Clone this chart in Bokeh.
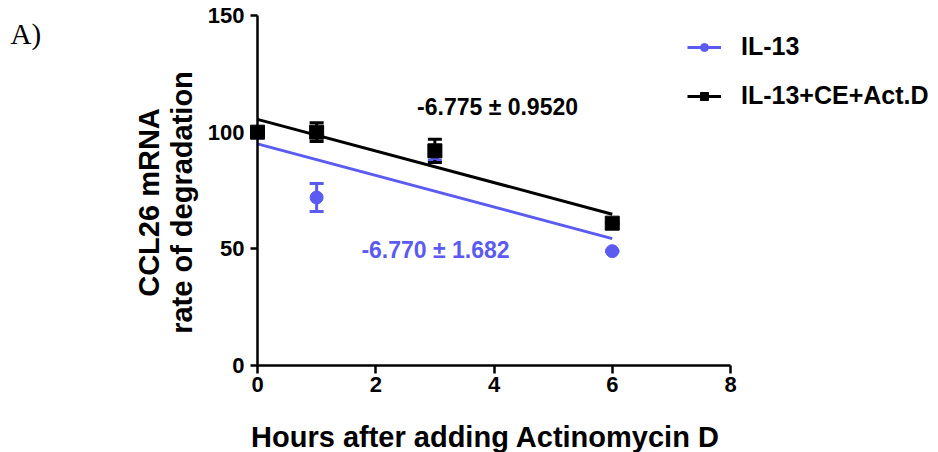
import math
from bokeh.plotting import figure
from bokeh.models import (Range1d, FixedTicker, Whisker, TeeHead, ColumnDataSource,
                          Legend, LegendItem, Label)
from bokeh.embed import file_html
from bokeh.resources import INLINE

# Time points (hours after Actinomycin D)
hours = [0, 1, 3, 6]

# CCL26 mRNA (% of t=0) with SEM
il13_mean = [100, 72, 91, 49]
il13_err = [0, 6, 3, 0]
ce_mean = [100, 100, 92, 61]
ce_err = [0, 4, 5, 0]

# Linear fits: slope ± SE, and intercepts
il13_slope, il13_slope_se, il13_icpt = -6.770, "1.682", 95.0
ce_slope, ce_slope_se, ce_icpt = -6.775, "0.9520", 105.5
fit_x = [0, 6]

x_ticks = [0, 2, 4, 6, 8]
y_ticks = [0, 50, 100, 150]

BLUE = "#5b5bf2"
BLACK = "#000000"
FONT = "Liberation Sans"

W, H = 938, 452
# plot area of the axes inside the canvas (pixels)
AX_L, AX_R, AX_T, AX_B = 257, 730, 15, 365
px_x = (AX_R - AX_L) / 8.0
px_y = (AX_B - AX_T) / 150.0

p = figure(width=W, height=H, output_backend="svg", toolbar_location=None,
           x_range=Range1d(-AX_L / px_x, (W - AX_L) / px_x),
           y_range=Range1d(-(H - AX_B) / px_y, 150 + AX_T / px_y),
           min_border=0)
p.outline_line_color = None
p.grid.visible = False
p.background_fill_color = "white"
p.border_fill_color = "white"

for ax in (p.xaxis[0], p.yaxis[0]):
    ax.fixed_location = 0
    ax.axis_line_width = 2.5
    ax.major_tick_line_width = 2.5
    ax.minor_tick_line_color = None
    ax.major_tick_in = 0
    ax.major_label_text_font = FONT
    ax.major_label_text_font_style = "bold"
    ax.major_label_text_font_size = "22px"
    ax.major_label_text_color = BLACK

p.xaxis.bounds = (0, 8)
p.yaxis.bounds = (0, 150)
p.xaxis.ticker = FixedTicker(ticks=x_ticks)
p.yaxis.ticker = FixedTicker(ticks=y_ticks)
p.xaxis.major_tick_out = 8
p.yaxis.major_tick_out = 7
p.xaxis.major_label_standoff = 3
p.yaxis.major_label_standoff = 6

# Axis titles
title_style = dict(x_units="screen", y_units="screen", text_font=FONT,
                   text_font_style="bold", text_font_size="29px", text_color=BLACK,
                   text_align="center", text_baseline="middle")
p.add_layout(Label(x=485, y=H - 436, text="Hours after adding Actinomycin D",
                   **title_style))
p.add_layout(Label(x=148, y=H - 202, text="CCL26 mRNA", angle=math.pi / 2,
                   **title_style))
p.add_layout(Label(x=181, y=H - 202, text="rate of degradation", angle=math.pi / 2,
                   **title_style))

# Regression lines
il13_fit = [il13_icpt + il13_slope * x for x in fit_x]
ce_fit = [ce_icpt + ce_slope * x for x in fit_x]
l_il13 = p.line(fit_x, il13_fit, line_color=BLUE, line_width=3)
l_ce = p.line(fit_x, ce_fit, line_color=BLACK, line_width=3)

# Error bars
src_il13 = ColumnDataSource(dict(
    x=hours, y=il13_mean,
    lo=[m - e for m, e in zip(il13_mean, il13_err)],
    hi=[m + e for m, e in zip(il13_mean, il13_err)]))
src_ce = ColumnDataSource(dict(
    x=hours, y=ce_mean,
    lo=[m - e for m, e in zip(ce_mean, ce_err)],
    hi=[m + e for m, e in zip(ce_mean, ce_err)]))

for src, col in ((src_il13, BLUE), (src_ce, BLACK)):
    w = Whisker(source=src, base="x", lower="lo", upper="hi",
                line_color=col, line_width=3,
                upper_head=TeeHead(size=14, line_color=col, line_width=3),
                lower_head=TeeHead(size=14, line_color=col, line_width=3))
    p.add_layout(w)

s_il13 = p.scatter("x", "y", source=src_il13, marker="circle", size=13,
                   fill_color=BLUE, line_color=BLUE)
s_ce = p.scatter("x", "y", source=src_ce, marker="square", size=14,
                 fill_color=BLACK, line_color=BLACK)

# Slope annotations
slope_style = dict(text_align="center", text_baseline="middle", text_font=FONT,
                   text_font_style="bold", text_font_size="23px")
p.add_layout(Label(x=4.06, y=110.6, text=f"{ce_slope:.3f} ± {ce_slope_se}",
                   text_color=BLACK, **slope_style))
p.add_layout(Label(x=3.01, y=49.7, text=f"{il13_slope:.3f} ± {il13_slope_se}",
                   text_color=BLUE, **slope_style))

# Panel letter
p.add_layout(Label(x=10, y=H - 33, x_units="screen", y_units="screen", text="A)",
                   text_font="Liberation Serif", text_font_size="29px",
                   text_color=BLACK, text_baseline="middle"))

legend = Legend(items=[LegendItem(label="IL-13", renderers=[l_il13, s_il13]),
                       LegendItem(label="IL-13+CE+Act.D", renderers=[l_ce, s_ce])],
                location=(687, H - 110), orientation="vertical",
                label_text_font=FONT, label_text_font_style="bold",
                label_text_font_size="25px", label_text_color=BLACK,
                glyph_width=34, glyph_height=20, label_standoff=20, spacing=20,
                border_line_color=None, background_fill_alpha=0)
p.add_layout(legend)

open("out.html", "w").write(file_html(p, INLINE))
